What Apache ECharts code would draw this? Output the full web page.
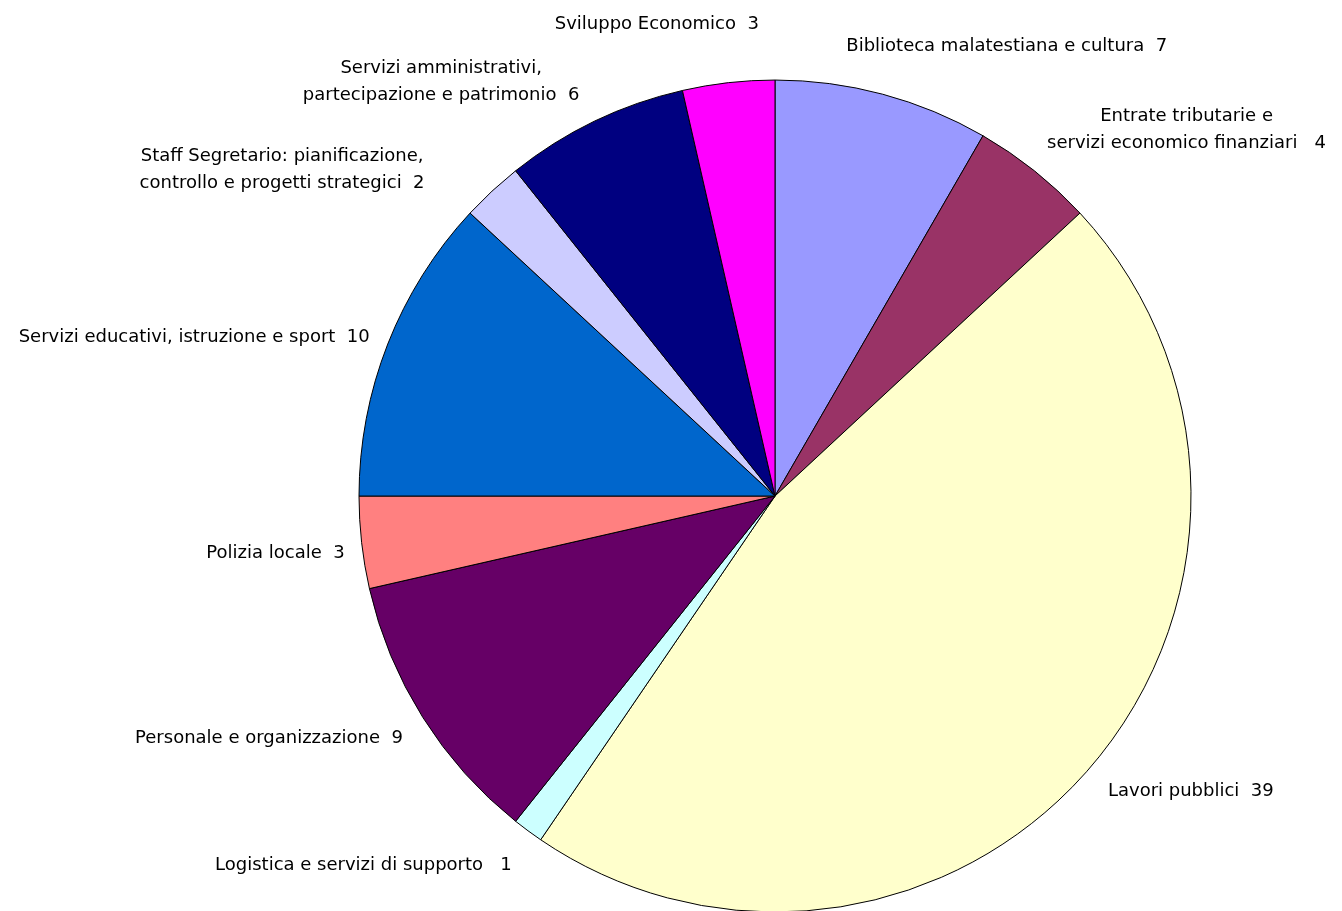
<!DOCTYPE html>
<html>
<head>
<meta charset="utf-8">
<script src="https://cdn.jsdelivr.net/npm/echarts@6/dist/echarts.min.js"></script>
<style>
  html, body { margin: 0; padding: 0; background: #fff; }
  #chart { width: 1342px; height: 911px; }
</style>
</head>
<body>
<div id="chart"></div>
<script>
// settori, in senso orario dalle ore 12
var sectors = [
  'Biblioteca malatestiana e cultura',
  'Entrate tributarie e\nservizi economico finanziari ',
  'Lavori pubblici',
  'Logistica e servizi di supporto ',
  'Personale e organizzazione',
  'Polizia locale',
  'Servizi educativi, istruzione e sport',
  'Staff Segretario: pianificazione,\ncontrollo e progetti strategici',
  'Servizi amministrativi,\npartecipazione e patrimonio',
  'Sviluppo Economico'
];
var counts = [7, 4, 39, 1, 9, 3, 10, 2, 6, 3];
var colors = ['#9999FF', '#993366', '#FFFFCC', '#CCFFFF', '#660066',
              '#FF8080', '#0066CC', '#CCCCFF', '#000080', '#FF00FF'];

// piccoli spostamenti delle etichette, per avvicinarle all'originale
var labelShift = [
  [-45, -34], [-1, -30], [2, 15], [-3, 23], [-3, 14],
  [2, 9], [0, -2], [-53, -11], [-4, -27], [37, -44]
];

var chart = echarts.init(document.getElementById('chart'));

var option = {
  animation: false,
  color: colors,
  series: [
    {
      type: 'pie',
      center: ['57.75%', '54.45%'],
      radius: 416,
      startAngle: 90,
      clockwise: true,
      avoidLabelOverlap: false,
      data: sectors.map(function (name, i) {
        return { name: name, value: counts[i] };
      }),
      itemStyle: { borderColor: '#000', borderWidth: 1 },
      label: {
        show: true,
        position: 'outside',
        formatter: '{b}  {c}',
        fontFamily: 'DejaVu Sans',
        fontSize: 18,
        color: '#000',
        lineHeight: 27
      },
      labelLine: { show: false, length: 14, length2: 0 },
      // righe centrate come nell'originale
      labelLayout: function (p) {
        var r = p.labelRect;
        var s = labelShift[p.dataIndex];
        return {
          x: r.x + r.width / 2 + s[0],
          y: r.y + r.height / 2 + s[1],
          align: 'center',
          verticalAlign: 'middle'
        };
      },
      emphasis: { disabled: true }
    }
  ]
};

chart.setOption(option);
</script>
</body>
</html>
